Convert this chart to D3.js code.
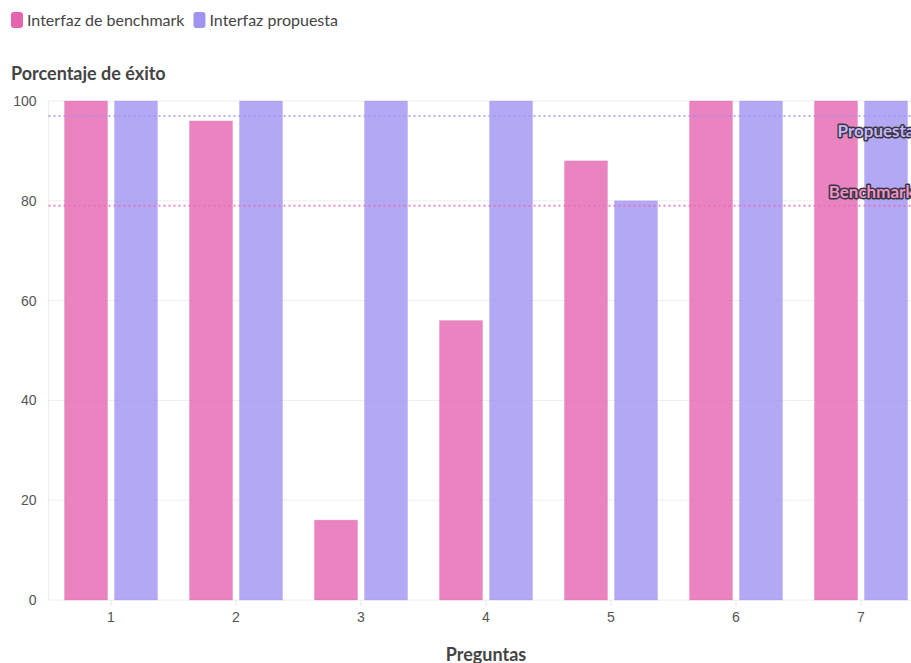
<!DOCTYPE html>
<html>
<head>
<meta charset="utf-8">
<script src="https://cdn.jsdelivr.net/npm/d3@7"></script>
<style>
  body { margin: 0; background: #fff; }
  svg { display: block; font-family: "Source Sans Pro", Lato, "Noto Sans", sans-serif; }
  .legend text { font-size: 16px; fill: #444; }
  .axis text { font-size: 14px; fill: #555; }
  .title { font-size: 18px; font-weight: bold; fill: #444; }
  .ref-label { font-size: 17px; font-weight: bold; paint-order: stroke; stroke: #3a3340; stroke-width: 3px; stroke-linejoin: round; }
</style>
</head>
<body>
<div id="chart"></div>
<script>
// data
const preguntas = ['1', '2', '3', '4', '5', '6', '7'];
const benchmark = [100, 96, 16, 56, 88, 100, 100];
const propuesta = [100, 100, 100, 100, 80, 100, 100];
const yTicks = [0, 20, 40, 60, 80, 100];
const seriesNames = ['Interfaz de benchmark', 'Interfaz propuesta'];
const refLines = [
  { key: 'prop', label: 'Propuesta', value: 97 },
  { key: 'bench', label: 'Benchmark', value: 79 }
];

const colors = { bench: '#e565b0', prop: '#a092f1' };
const keys = ['bench', 'prop'];

const W = 911, H = 663;
const plot = { left: 48.5, right: 923.5, top: 101, bottom: 600 };

const svg = d3.select('#chart').append('svg')
  .attr('width', W)
  .attr('height', H);

const rows = preguntas.map(function(p, i) {
  return { name: p, bench: benchmark[i], prop: propuesta[i] };
});

const x0 = d3.scaleBand()
  .domain(preguntas)
  .range([plot.left, plot.right])
  .paddingInner(0.256)
  .paddingOuter(0.128);

const x1 = d3.scaleBand()
  .domain(keys)
  .range([0, x0.bandwidth()])
  .paddingInner(0.14);

const y = d3.scaleLinear()
  .domain([0, 100])
  .range([plot.bottom, plot.top]);

// grid
svg.append('g')
  .selectAll('line')
  .data(yTicks)
  .enter().append('line')
    .attr('x1', plot.left)
    .attr('x2', W)
    .attr('y1', function(d) { return y(d); })
    .attr('y2', function(d) { return y(d); })
    .attr('stroke', '#eeeeee')
    .attr('stroke-width', 1);

svg.append('line')
  .attr('x1', plot.left).attr('x2', plot.left)
  .attr('y1', plot.top).attr('y2', plot.bottom)
  .attr('stroke', '#eeeeee');

// bars
svg.append('g')
  .selectAll('g')
  .data(rows)
  .enter().append('g')
    .attr('transform', function(d) { return 'translate(' + x0(d.name) + ',0)'; })
  .selectAll('rect')
  .data(function(d) { return keys.map(function(k) { return { key: k, value: d[k] }; }); })
  .enter().append('rect')
    .attr('x', function(d) { return x1(d.key); })
    .attr('y', function(d) { return y(d.value); })
    .attr('width', x1.bandwidth())
    .attr('height', function(d) { return y(0) - y(d.value); })
    .attr('fill', function(d) { return colors[d.key]; })
    .attr('fill-opacity', 0.8)
    .attr('stroke', function(d) { return colors[d.key]; })
    .attr('stroke-opacity', 0.25)
    .attr('stroke-width', 1);

// reference lines
const ref = svg.append('g')
  .selectAll('g')
  .data(refLines)
  .enter().append('g');

ref.append('line')
  .attr('x1', plot.left)
  .attr('x2', W)
  .attr('y1', function(d) { return y(d.value); })
  .attr('y2', function(d) { return y(d.value); })
  .attr('stroke', function(d) { return colors[d.key]; })
  .attr('stroke-width', 2)
  .attr('stroke-dasharray', '2,3')
  .attr('stroke-opacity', 0.75);

ref.append('text')
  .attr('class', 'ref-label')
  .attr('x', plot.right - 9)
  .attr('y', function(d) { return d.key == 'prop' ? y(d.value) + 21 : y(d.value) - 8; })
  .attr('text-anchor', 'end')
  .attr('fill', function(d) { return d.key == 'prop' ? '#c2b8f7' : '#ee93c8'; })
  .text(function(d) { return d.label; });

// axes
const yAxis = svg.append('g')
  .attr('class', 'axis')
  .attr('transform', 'translate(' + plot.left + ',0)')
  .call(d3.axisLeft(y).tickValues(yTicks).tickSize(0).tickPadding(12));
yAxis.select('.domain').remove();

const xAxis = svg.append('g')
  .attr('class', 'axis')
  .attr('transform', 'translate(0,' + plot.bottom + ')')
  .call(d3.axisBottom(x0).tickSize(6).tickPadding(6));
xAxis.select('.domain').remove();
xAxis.selectAll('.tick line').attr('stroke', '#e6e6e6');

// titles
svg.append('text')
  .attr('class', 'title')
  .attr('x', 11)
  .attr('y', 80)
  .text('Porcentaje de éxito');

svg.append('text')
  .attr('class', 'title')
  .attr('x', (plot.left + plot.right) / 2)
  .attr('y', 661)
  .attr('text-anchor', 'middle')
  .text('Preguntas');

// legend
const legend = svg.append('g').attr('class', 'legend');
let lx = 11;
seriesNames.forEach(function(name, i) {
  legend.append('rect')
    .attr('x', lx).attr('y', 12)
    .attr('width', 12).attr('height', 16)
    .attr('rx', 3).attr('ry', 3)
    .attr('fill', colors[keys[i]]);
  const t = legend.append('text')
    .attr('x', lx + 16).attr('y', 26)
    .text(name);
  lx += 16 + t.node().getComputedTextLength() + 9;
});
</script>
</body>
</html>
